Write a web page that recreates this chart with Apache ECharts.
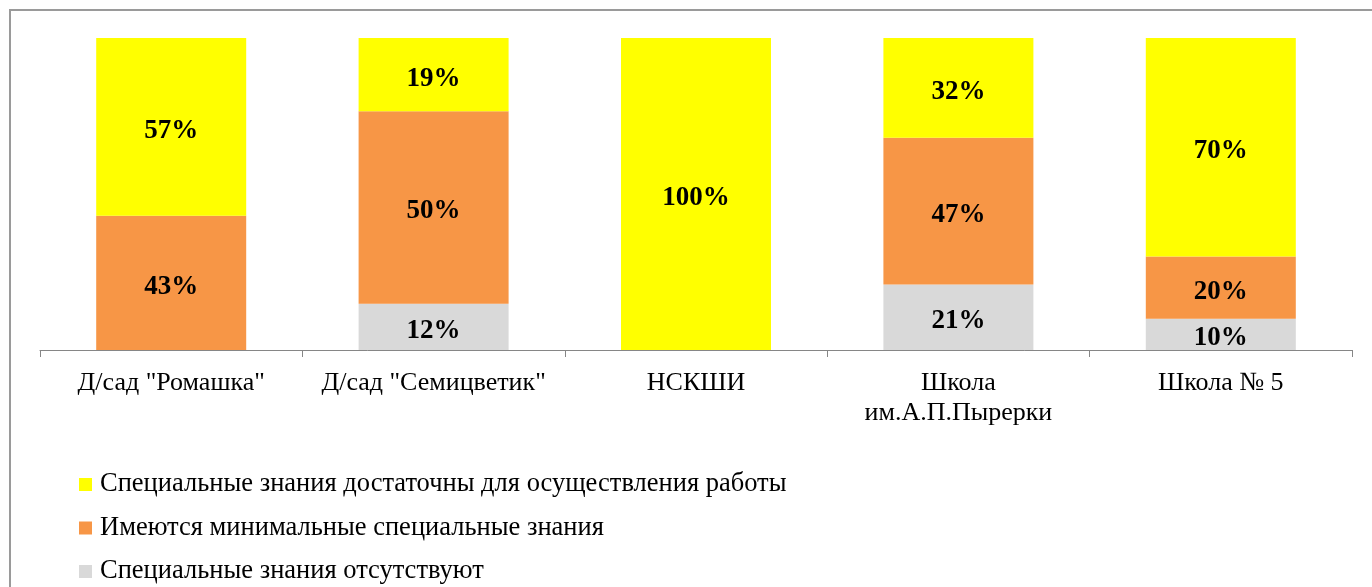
<!DOCTYPE html>
<html>
<head>
<meta charset="utf-8">
<script src="https://cdn.jsdelivr.net/npm/echarts@6/dist/echarts.min.js"></script>
<style>html,body{margin:0;padding:0;background:#fff}#c{width:1372px;height:587px}</style>
</head>
<body>
<div id="c"></div>
<script>
const categories = ['Д/сад "Ромашка"', 'Д/сад "Семицветик"', 'НСКШИ', 'Школа\nим.А.П.Пырерки', 'Школа № 5'];
const seriesNames = ['Специальные знания достаточны для осуществления работы', 'Имеются минимальные специальные знания', 'Специальные знания отсутствуют'];
const sufficient = [57, 19, 100, 32, 70];
const minimal = [43, 50, 0, 47, 20];
const absent = [0, 12, 0, 21, 10];

const totals = categories.map((_, i) => sufficient[i] + minimal[i] + absent[i]);
const share = (arr) => arr.map((v, i) => ({ value: v / totals[i] * 100, raw: v }));

const serif = "'Liberation Serif', 'Times New Roman', serif";
const lbl = {
  show: true, position: 'inside', offset: [0, 4], color: '#000', fontFamily: serif, fontWeight: 'bold', fontSize: 27,
  formatter: p => p.data.raw ? p.data.raw + '%' : ''
};
const legendTops = [471, 514.5, 558];
const legends = seriesNames.map((n, i) => ({
  orient: 'vertical', left: 79, top: legendTops[i], padding: 0, itemWidth: 13, itemHeight: 13, icon: 'rect',
  data: [n],
  textStyle: { fontFamily: serif, fontSize: 26.5, color: '#000', lineHeight: 24, padding: [0, 0, 0, 3] }
}));
const chart = echarts.init(document.getElementById('c'));
chart.setOption({
  animation: false,
  graphic: [{ type: 'rect', shape: { x: 10, y: 10, width: 1400, height: 700 }, style: { fill: 'none', stroke: '#9a9a9a', lineWidth: 2 } }],
  grid: { left: 40, right: 20, top: 38, bottom: 237 },
  legend: legends,
  xAxis: {
    type: 'category', data: categories,
    axisLine: { lineStyle: { color: '#868686' } },
    axisTick: { show: true, length: 7, interval: 0, lineStyle: { color: '#868686' } },
    axisLabel: { interval: 0, fontFamily: serif, fontSize: 26, color: '#000', margin: 18, lineHeight: 30 }
  },
  yAxis: { type: 'value', min: 0, max: 100, show: false, splitLine: { show: false } },
  series: [
    { name: seriesNames[2], type: 'bar', stack: 's', barWidth: 150, data: share(absent), itemStyle: { color: '#D9D9D9' }, label: lbl },
    { name: seriesNames[1], type: 'bar', stack: 's', barWidth: 150, data: share(minimal), itemStyle: { color: '#F79646' }, label: lbl },
    { name: seriesNames[0], type: 'bar', stack: 's', barWidth: 150, data: share(sufficient), itemStyle: { color: '#FFFF00' }, label: lbl }
  ]
});
</script>
</body>
</html>
